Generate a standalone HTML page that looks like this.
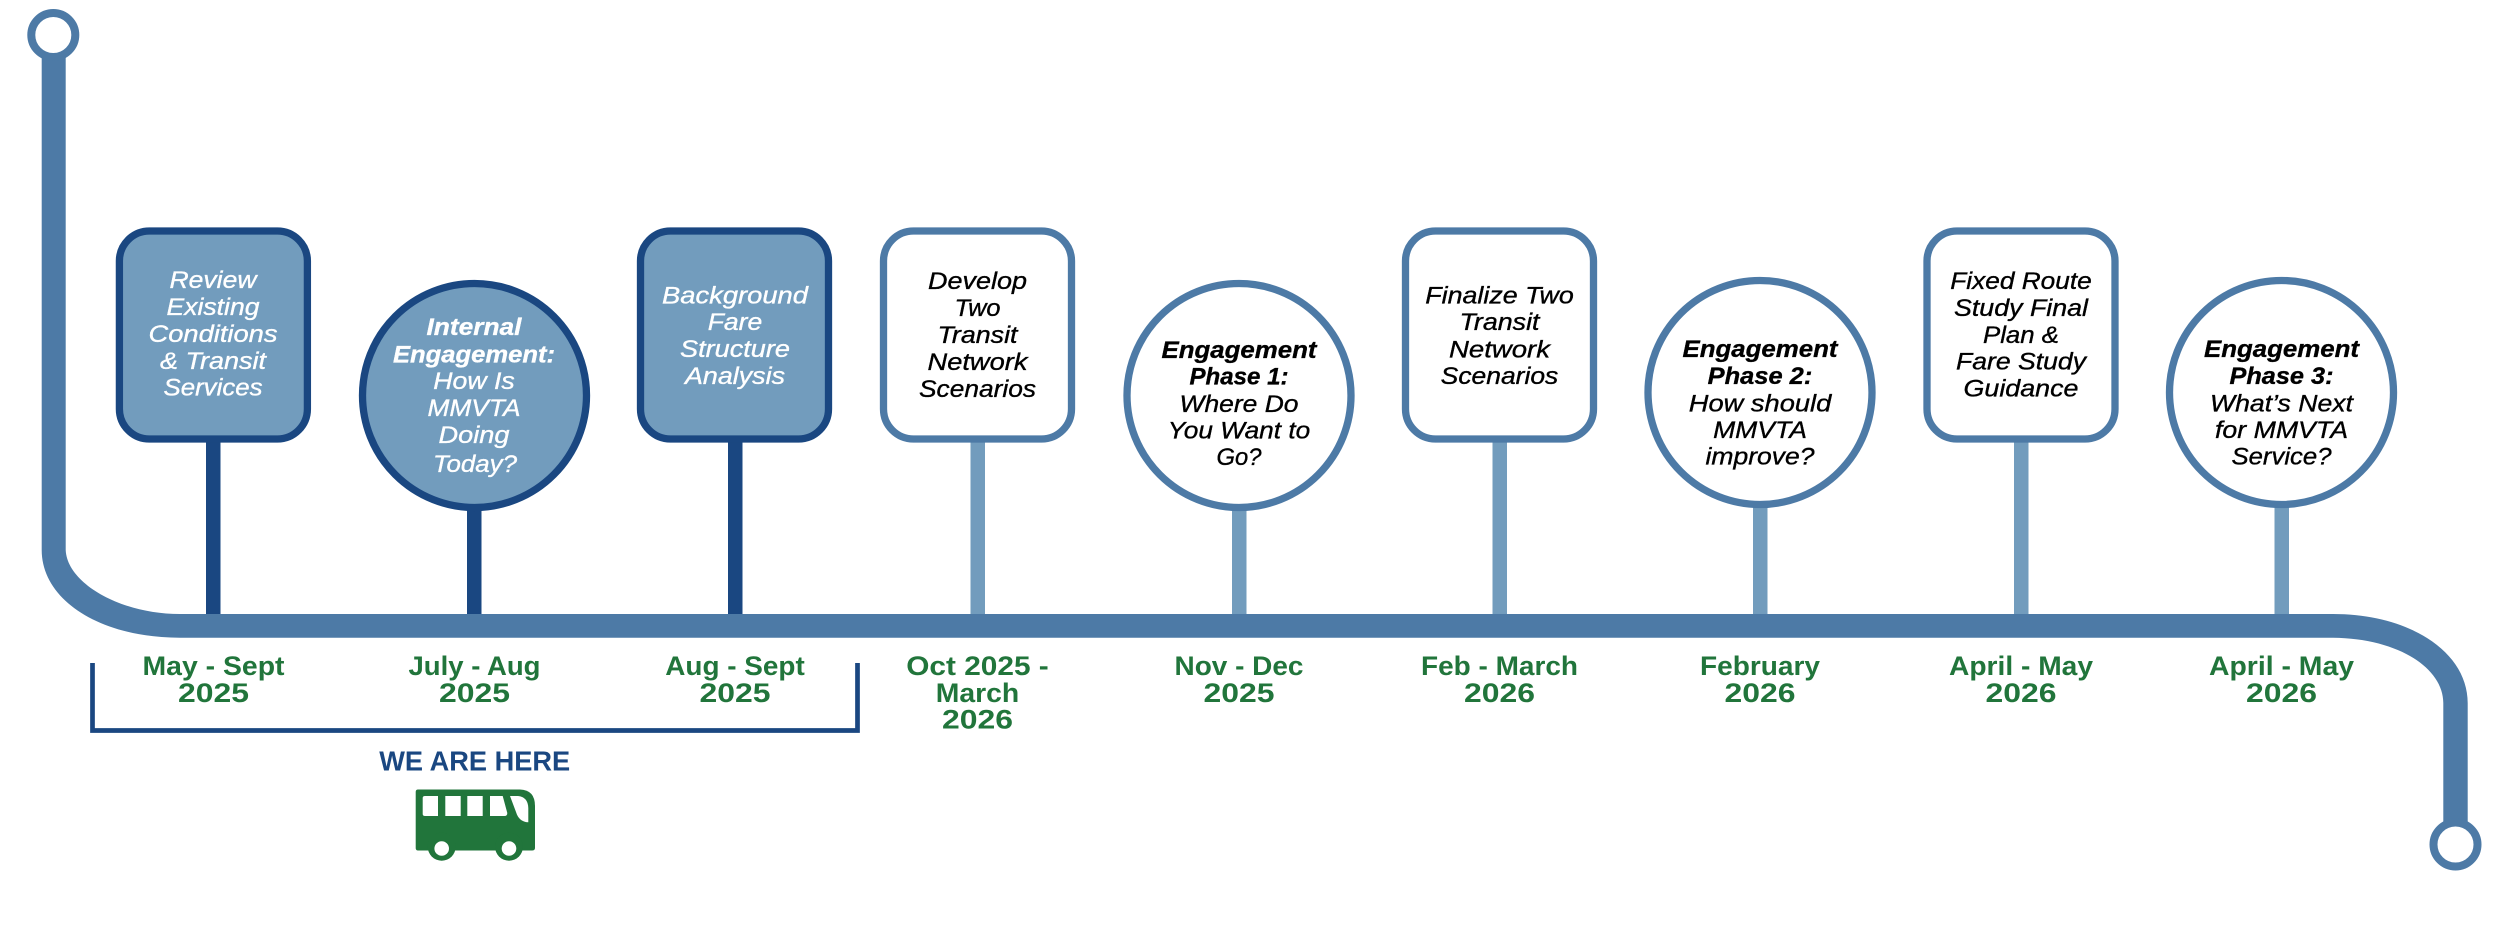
<!DOCTYPE html>
<html><head><meta charset="utf-8"><title>Timeline</title>
<style>
html,body{margin:0;padding:0;background:#fff;width:2500px;height:937px;overflow:hidden}
svg{display:block}
text{font-family:"Liberation Sans",sans-serif;text-anchor:middle}
.t{font-size:24.5px;font-style:italic;fill:#000;stroke:#000;stroke-width:.35px}
.w{fill:#fff;stroke:#fff}
.b{font-weight:bold}
.d{font-size:27px;font-weight:bold;fill:#21753b}
</style></head><body>
<svg width="2500" height="937" viewBox="0 0 2500 937" xmlns="http://www.w3.org/2000/svg">
<rect width="2500" height="937" fill="#fff"/>
<!-- stems -->
<g fill="#1a4781">
<rect x="206" y="440" width="14.500" height="176"/>
<rect x="467" y="505" width="14.500" height="111"/>
<rect x="728" y="440" width="14.500" height="176"/>
</g>
<g fill="#729cbd">
<rect x="970.500" y="440" width="14.500" height="176"/>
<rect x="1232" y="505" width="14.500" height="111"/>
<rect x="1492.500" y="440" width="14.500" height="176"/>
<rect x="1753" y="505" width="14.500" height="111"/>
<rect x="2014" y="440" width="14.500" height="176"/>
<rect x="2274.500" y="505" width="14.500" height="111"/>
</g>
<!-- main line -->
<path d="M41.700 45 V550 C41.700 600 100 637.700 180 637.700 H2333 C2398 638.300 2443.300 668 2443.300 703 V840 H2467.700 V703 C2467.700 652 2410 614 2333 614 H180 C120 614 67 583 65.700 550 V45 Z" fill="#4d7aa6"/>
<circle cx="53.300" cy="35" r="22" fill="#fff" stroke="#4d7aa6" stroke-width="8"/>
<circle cx="2455.500" cy="844.500" r="22" fill="#fff" stroke="#4d7aa6" stroke-width="8"/>
<!-- filled nodes -->
<g fill="#729cbd" stroke="#1a4781" stroke-width="7.300">
<rect x="119.400" y="231" width="188" height="208" rx="30" ry="30"/>
<circle cx="474.500" cy="395.500" r="112"/>
<rect x="640.500" y="231" width="188" height="208" rx="30" ry="30"/>
</g>
<!-- white nodes -->
<g fill="#fff" stroke="#4d7aa6" stroke-width="7.300">
<rect x="883.500" y="231" width="188" height="208" rx="30" ry="30"/>
<circle cx="1239" cy="395.500" r="112"/>
<rect x="1405.500" y="231" width="188" height="208" rx="30" ry="30"/>
<circle cx="1760" cy="392.500" r="112"/>
<rect x="1927" y="231" width="188" height="208" rx="30" ry="30"/>
<circle cx="2281.500" cy="392.500" r="112"/>
</g>
<!-- node text -->
<g class="t w">
<text x="213" y="288" textLength="87" lengthAdjust="spacingAndGlyphs">Review</text>
<text x="213" y="315" textLength="93" lengthAdjust="spacingAndGlyphs">Existing</text>
<text x="213" y="342" textLength="129" lengthAdjust="spacingAndGlyphs">Conditions</text>
<text x="213" y="369" textLength="106" lengthAdjust="spacingAndGlyphs">&amp; Transit</text>
<text x="213" y="395.500" textLength="99" lengthAdjust="spacingAndGlyphs">Services</text>
<text x="474" y="335" class="b" textLength="95" lengthAdjust="spacingAndGlyphs">Internal</text>
<text x="474" y="362.500" class="b" textLength="162" lengthAdjust="spacingAndGlyphs">Engagement:</text>
<text x="474" y="389" textLength="81.500" lengthAdjust="spacingAndGlyphs">How Is</text>
<text x="474" y="416" textLength="93" lengthAdjust="spacingAndGlyphs">MMVTA</text>
<text x="474" y="443" textLength="71" lengthAdjust="spacingAndGlyphs">Doing</text>
<text x="475" y="472" textLength="84" lengthAdjust="spacingAndGlyphs">Today?</text>
<text x="735" y="303.500" textLength="146" lengthAdjust="spacingAndGlyphs">Background</text>
<text x="735" y="330" textLength="54.500" lengthAdjust="spacingAndGlyphs">Fare</text>
<text x="735" y="357" textLength="110" lengthAdjust="spacingAndGlyphs">Structure</text>
<text x="735" y="384" textLength="100" lengthAdjust="spacingAndGlyphs">Analysis</text>
</g>
<g class="t">
<text x="977.500" y="289" textLength="99" lengthAdjust="spacingAndGlyphs">Develop</text>
<text x="977.500" y="316" textLength="46" lengthAdjust="spacingAndGlyphs">Two</text>
<text x="977.500" y="343" textLength="80" lengthAdjust="spacingAndGlyphs">Transit</text>
<text x="977.500" y="370" textLength="100" lengthAdjust="spacingAndGlyphs">Network</text>
<text x="977.500" y="397" textLength="117" lengthAdjust="spacingAndGlyphs">Scenarios</text>
<text x="1239" y="358" class="b" textLength="155" lengthAdjust="spacingAndGlyphs">Engagement</text>
<text x="1239" y="384.600" class="b" textLength="99" lengthAdjust="spacingAndGlyphs">Phase 1:</text>
<text x="1239" y="412" textLength="119" lengthAdjust="spacingAndGlyphs">Where Do</text>
<text x="1239" y="438.600" textLength="142.500" lengthAdjust="spacingAndGlyphs">You Want to</text>
<text x="1239" y="465" textLength="45" lengthAdjust="spacingAndGlyphs">Go?</text>
<text x="1499.500" y="303.600" textLength="148.500" lengthAdjust="spacingAndGlyphs">Finalize Two</text>
<text x="1499.500" y="330" textLength="80" lengthAdjust="spacingAndGlyphs">Transit</text>
<text x="1499.500" y="357.500" textLength="101" lengthAdjust="spacingAndGlyphs">Network</text>
<text x="1499.500" y="384" textLength="117.600" lengthAdjust="spacingAndGlyphs">Scenarios</text>
<text x="1760" y="357" class="b" textLength="155" lengthAdjust="spacingAndGlyphs">Engagement</text>
<text x="1760" y="384" class="b" textLength="104.600" lengthAdjust="spacingAndGlyphs">Phase 2:</text>
<text x="1760" y="411.500" textLength="142.500" lengthAdjust="spacingAndGlyphs">How should</text>
<text x="1760" y="438" textLength="93.800" lengthAdjust="spacingAndGlyphs">MMVTA</text>
<text x="1760" y="464.600" textLength="109" lengthAdjust="spacingAndGlyphs">improve?</text>
<text x="2021" y="289" textLength="141.500" lengthAdjust="spacingAndGlyphs">Fixed Route</text>
<text x="2021" y="316" textLength="134" lengthAdjust="spacingAndGlyphs">Study Final</text>
<text x="2021" y="343" textLength="76" lengthAdjust="spacingAndGlyphs">Plan &amp;</text>
<text x="2021" y="369.600" textLength="130" lengthAdjust="spacingAndGlyphs">Fare Study</text>
<text x="2021" y="396.400" textLength="115" lengthAdjust="spacingAndGlyphs">Guidance</text>
<text x="2281.500" y="357" class="b" textLength="155" lengthAdjust="spacingAndGlyphs">Engagement</text>
<text x="2281.500" y="384" class="b" textLength="104" lengthAdjust="spacingAndGlyphs">Phase 3:</text>
<text x="2281.500" y="411.500" textLength="143" lengthAdjust="spacingAndGlyphs">What’s Next</text>
<text x="2281.500" y="438" textLength="133" lengthAdjust="spacingAndGlyphs">for MMVTA</text>
<text x="2281.500" y="464.600" textLength="100" lengthAdjust="spacingAndGlyphs">Service?</text>
</g>
<!-- dates -->
<g class="d">
<text x="213.500" y="675" textLength="142" lengthAdjust="spacingAndGlyphs">May - Sept</text>
<text x="213.500" y="702" textLength="71" lengthAdjust="spacingAndGlyphs">2025</text>
<text x="474.500" y="675" textLength="132" lengthAdjust="spacingAndGlyphs">July - Aug</text>
<text x="474.500" y="702" textLength="71" lengthAdjust="spacingAndGlyphs">2025</text>
<text x="735" y="675" textLength="139.500" lengthAdjust="spacingAndGlyphs">Aug - Sept</text>
<text x="735" y="702" textLength="71" lengthAdjust="spacingAndGlyphs">2025</text>
<text x="977.500" y="675" textLength="142.500" lengthAdjust="spacingAndGlyphs">Oct 2025 -</text>
<text x="977.500" y="702" textLength="83.500" lengthAdjust="spacingAndGlyphs">March</text>
<text x="977.500" y="728.600" textLength="71" lengthAdjust="spacingAndGlyphs">2026</text>
<text x="1239" y="675" textLength="129" lengthAdjust="spacingAndGlyphs">Nov - Dec</text>
<text x="1239" y="702" textLength="71" lengthAdjust="spacingAndGlyphs">2025</text>
<text x="1499.500" y="675" textLength="157" lengthAdjust="spacingAndGlyphs">Feb - March</text>
<text x="1499.500" y="702" textLength="71" lengthAdjust="spacingAndGlyphs">2026</text>
<text x="1760" y="675" textLength="120" lengthAdjust="spacingAndGlyphs">February</text>
<text x="1760" y="702" textLength="71" lengthAdjust="spacingAndGlyphs">2026</text>
<text x="2021" y="675" textLength="144" lengthAdjust="spacingAndGlyphs">April - May</text>
<text x="2021" y="702" textLength="71" lengthAdjust="spacingAndGlyphs">2026</text>
<text x="2281.500" y="675" textLength="145" lengthAdjust="spacingAndGlyphs">April - May</text>
<text x="2281.500" y="702" textLength="71" lengthAdjust="spacingAndGlyphs">2026</text>
</g>
<!-- bracket -->
<path d="M92.500 663 V730.500 H857.500 V663" fill="none" stroke="#1a4781" stroke-width="4.700"/>
<text x="474.700" y="770.700" font-size="27.500" font-weight="bold" fill="#1a4781" textLength="191" lengthAdjust="spacingAndGlyphs">WE ARE HERE</text>
<!-- bus -->
<path d="M418 789.500 H520 Q535 790 535 806 V848 Q535 850.500 532 850.500 H418 Q415.700 850.500 415.700 848 V792 Q415.700 789.500 418 789.500 Z" fill="#21753b"/>
<circle cx="441.700" cy="846.700" r="14" fill="#21753b"/>
<circle cx="509" cy="846.700" r="14" fill="#21753b"/>
<circle cx="441.700" cy="848.500" r="7.300" fill="#fff"/>
<circle cx="509" cy="848.500" r="7.300" fill="#fff"/>
<g fill="#fff">
<path d="M425 796 H438 V816 H425 Q422.700 816 422.700 814 V798 Q422.700 796 425 796 Z"/>
<rect x="445.300" y="796" width="15.400" height="20"/>
<rect x="467.300" y="796" width="15.400" height="20"/>
<path d="M490 796 H502.700 L507.300 813 Q507.300 816 504.500 816 H490 Z"/>
<path d="M510 796 H518 Q528 797 528.300 808 V822.300 Q519 822 516 812 Z"/>
</g>
</svg>
</body></html>
